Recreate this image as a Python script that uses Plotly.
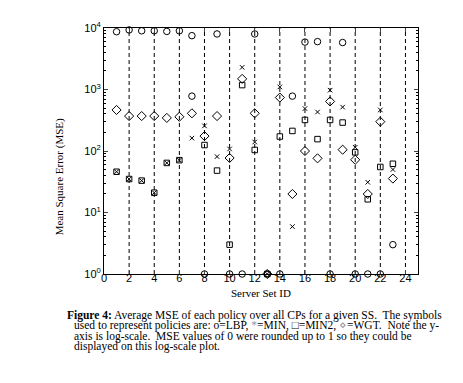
import plotly.graph_objects as go

# Server set IDs
ss_ids = list(range(1, 24))

# Average MSE values per policy (None = not shown)
lbp = [8700, 9300, 9000, 9000, 8800, 9000, 7500, 1, 8000, 1, 1, 8000, 1, 1, 780, 5900, 6000, 1, 5800, 1, 1, 1, 3.0]
lbp_extra_x = [7]
lbp_extra_y = [780]
mins = [46, 35, 33, 21, 64, 71, 162, 256, 81, 108, 2290, 140, 1, 1100, 5.9, 490, 430, 975, 517, 115, 31, 465, 50]
min2 = [46, 35, 33, 21, 64, 71, None, 125, 48, 3.0, 1180, 104, 1, 172, 212, 320, 156, 320, 290, 95, 16.4, 55, 62]
wgt = [465, 370, 370, 370, 345, 360, 410, 175, 370, 77, 1490, 410, 1, 740, 20, 100, 76, 640, 105, 72, 20, 300, 35.6]

x_ticks = list(range(0, 25, 2))
y_ticks = [1, 10, 100, 1000, 10000]
y_ticktext = ["10<sup>0</sup>", "10<sup>1</sup>", "10<sup>2</sup>", "10<sup>3</sup>", "10<sup>4</sup>"]
guide_x = list(range(2, 25, 2))
minor_vals = [m * 10 ** e for e in range(0, 4) for m in range(2, 10)]

caption_lines = [
    "<b>Figure 4:</b> Average MSE of each policy over all CPs for a given SS.  The symbols",
    "used to represent policies are: o=LBP, <span style='color:#999'>*</span>=MIN, \u25a1=MIN2, <span style='color:#999'>\u22c4</span>=WGT.  Note the y-",
    "axis is log-scale.  MSE values of 0 were rounded up to 1 so they could be",
    "displayed on this log-scale plot.",
]

W, H = 463, 383
L, R, T, B = 96, 410, 18, 266


def px(xp):
    return (xp - L) / (R - L)


def py(yp):
    return (B - yp) / (B - T)


fig = go.Figure()
line = dict(color="black", width=1)
fig.add_trace(go.Scatter(x=ss_ids, y=lbp, mode="markers", name="LBP", cliponaxis=False,
                         marker=dict(symbol="circle-open", size=6.5, line=line, color="black")))
fig.add_trace(go.Scatter(x=lbp_extra_x, y=lbp_extra_y, mode="markers", showlegend=False, cliponaxis=False,
                         marker=dict(symbol="circle-open", size=6.5, line=line, color="black")))
fig.add_trace(go.Scatter(x=ss_ids, y=mins, mode="markers", name="MIN", cliponaxis=False,
                         marker=dict(symbol="x-thin-open", size=4.5, line=line, color="black")))
fig.add_trace(go.Scatter(x=ss_ids, y=min2, mode="markers", name="MIN2", cliponaxis=False,
                         marker=dict(symbol="square-open", size=5.5, line=line, color="black")))
fig.add_trace(go.Scatter(x=ss_ids, y=wgt, mode="markers", name="WGT", cliponaxis=False,
                         marker=dict(symbol="diamond-open", size=7, line=line, color="black")))

for gx in guide_x:
    fig.add_shape(type="line", xref="x", yref="paper", x0=gx, x1=gx, y0=0, y1=1,
                  line=dict(color="black", width=1, dash="4px,3px"), layer="below")

fig.update_layout(
    width=W, height=H,
    margin=dict(l=L, r=W - R, t=T, b=H - B),
    paper_bgcolor="white", plot_bgcolor="white",
    showlegend=False,
    font=dict(family="Liberation Sans", size=11, color="black"),
    xaxis=dict(range=[0, 25], tickmode="array", tickvals=x_ticks, ticks="inside", ticklen=4,
               mirror="ticks", showline=True, linecolor="black", linewidth=1, showgrid=False,
               zeroline=False, ticklabelstandoff=-6, tickfont=dict(family="Liberation Sans", size=11)),
    yaxis=dict(type="log", range=[0, 4], tickmode="array", tickvals=y_ticks, ticktext=y_ticktext,
               ticks="inside", ticklen=4, mirror="ticks", showline=True, linecolor="black",
               linewidth=1, showgrid=False, zeroline=False,
               tickfont=dict(family="Liberation Sans", size=11),
               minor=dict(ticks="inside", ticklen=2, tickvals=minor_vals, tickcolor="black")),
)

ann = [
    dict(text="Server Set ID", x=px(253), y=py(293), xref="paper", yref="paper", showarrow=False,
         font=dict(family="Liberation Serif", size=11)),
    dict(text="Mean Square Error (MSE)", x=px(43), y=py(168), xref="paper", yref="paper",
         showarrow=False, textangle=-90, font=dict(family="Liberation Serif", size=11)),
]
starts = [57, 64, 64, 64]
ys = [307.5, 318, 329, 339.5]
for t, sx, sy in zip(caption_lines, starts, ys):
    ann.append(dict(text=t, x=px(sx), y=py(sy), xref="paper", yref="paper", xanchor="left",
                    yanchor="middle", showarrow=False, align="left",
                    font=dict(family="Liberation Serif", size=11.5)))
fig.update_layout(annotations=ann)

fig.write_html("out.html")
